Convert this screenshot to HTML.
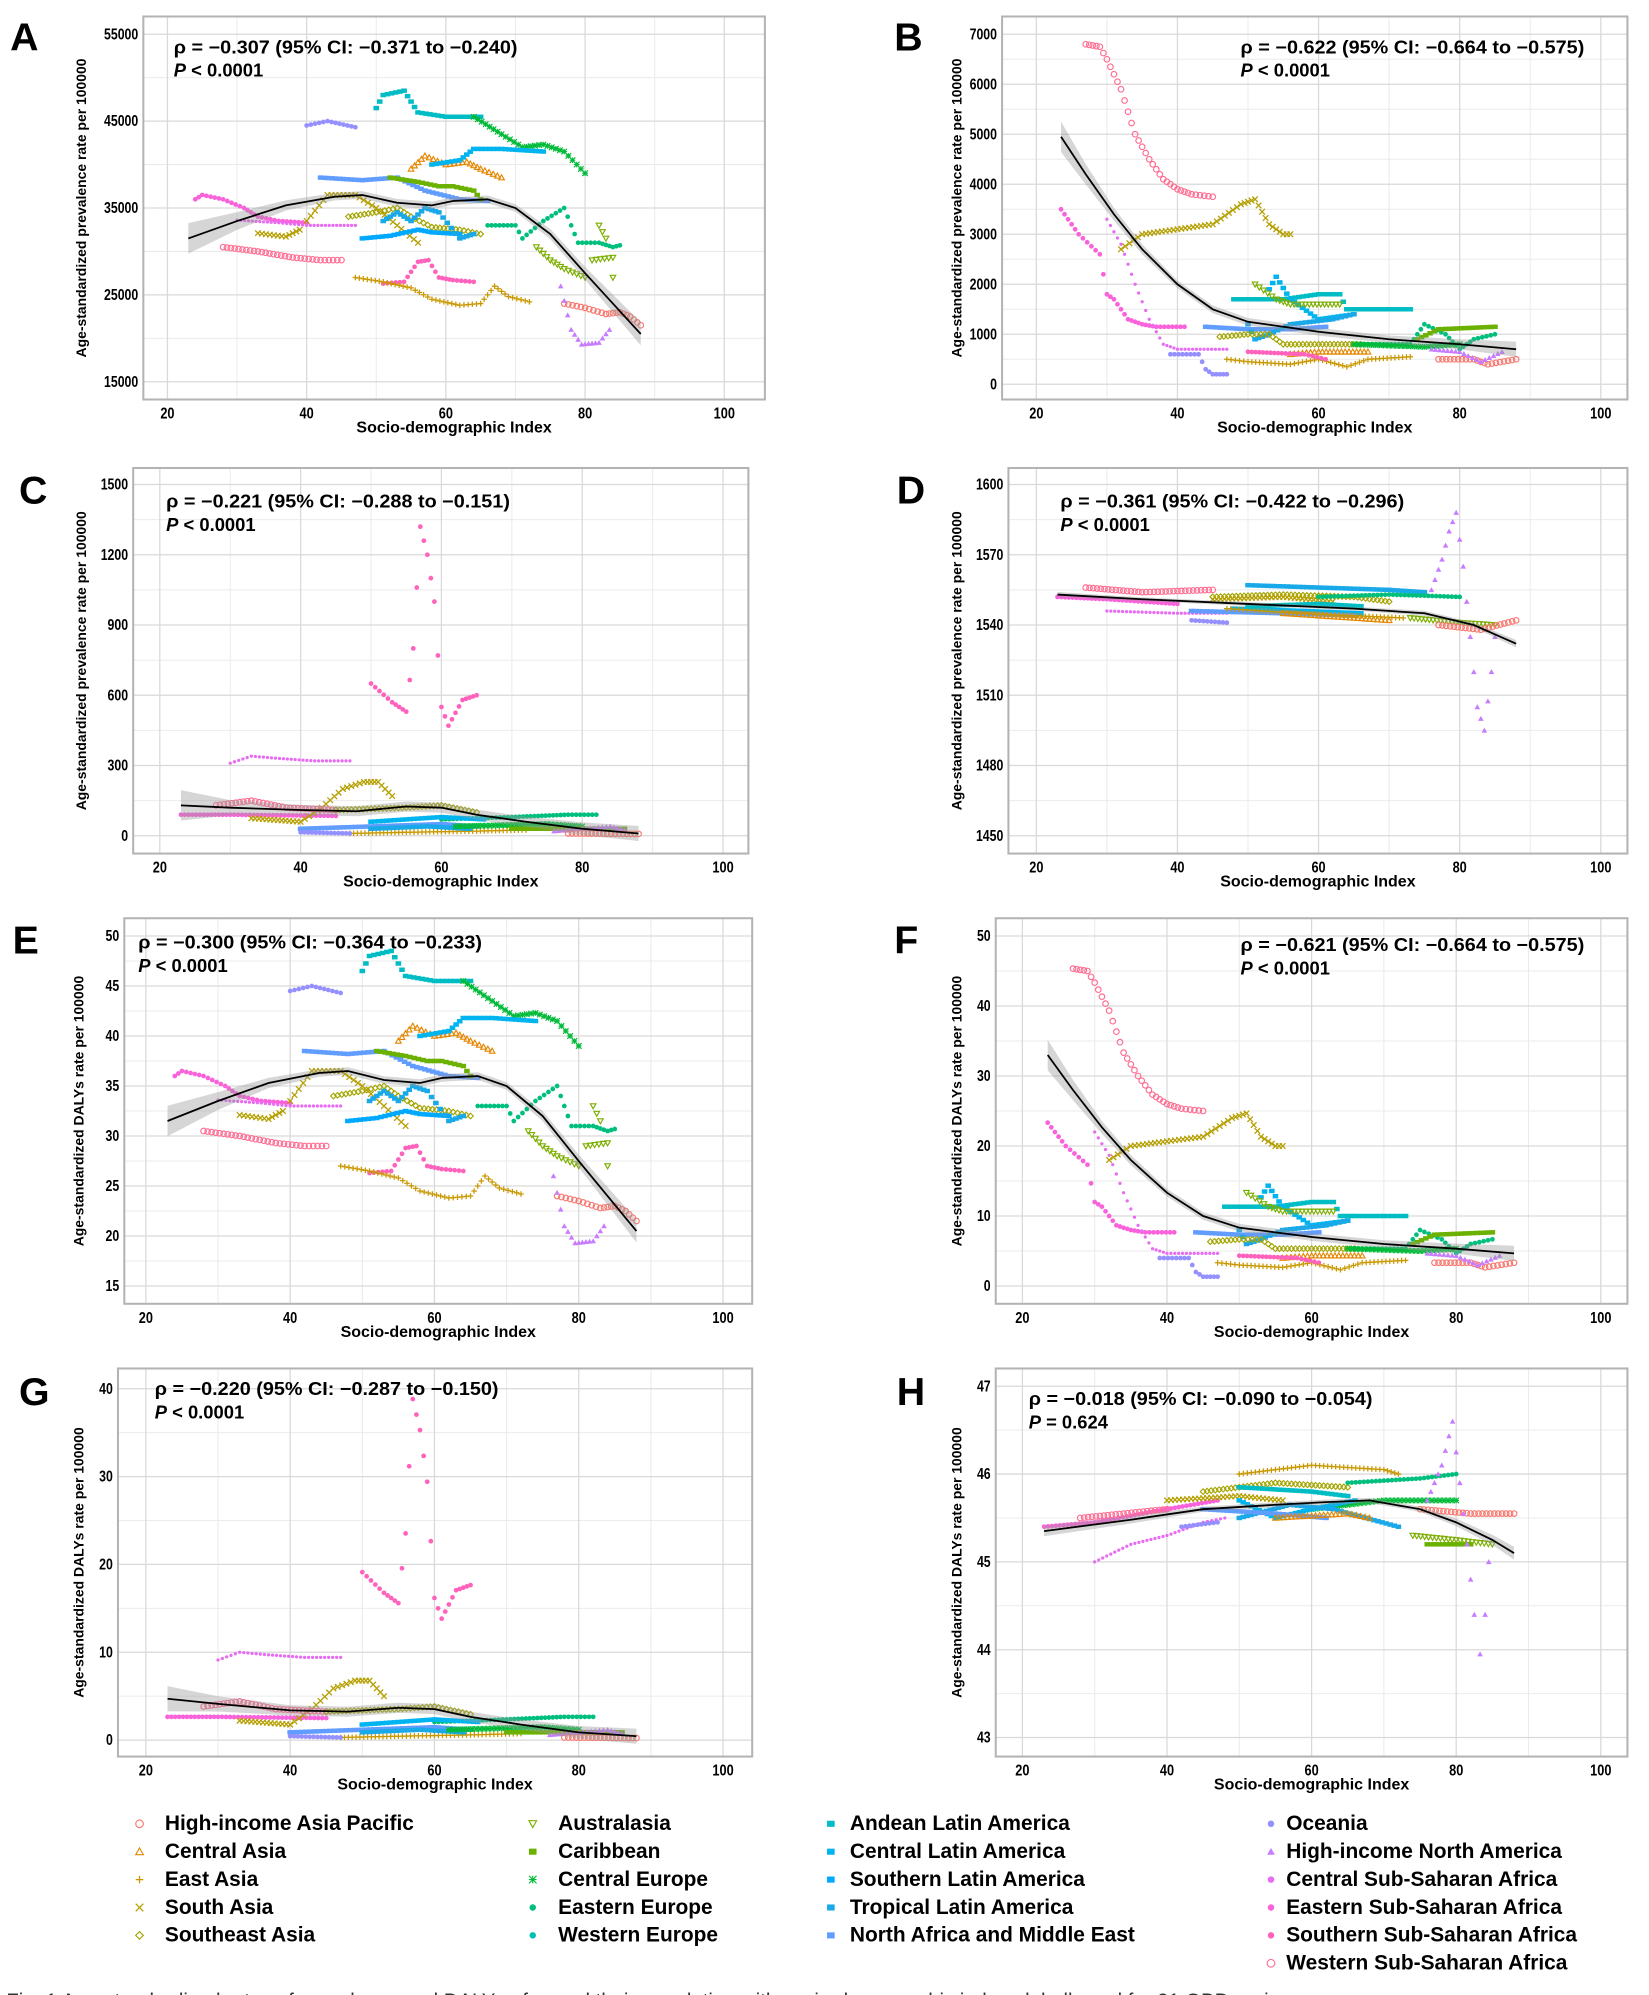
<!DOCTYPE html>
<html><head><meta charset="utf-8">
<style>
html,body{margin:0;padding:0;background:#fff;}
svg{display:block;}
text{font-family:"Liberation Sans Narrow","Liberation Sans",sans-serif;}
</style></head>
<body>
<svg id="s" width="1649" height="1995" viewBox="0 0 1300 1573" preserveAspectRatio="none" xmlns="http://www.w3.org/2000/svg"></svg>
<script>
const S=document.getElementById('s');
const NS='http://www.w3.org/2000/svg';
function el(t,a,p){const e=document.createElementNS(NS,t);for(const k in a)e.setAttribute(k,a[k]);(p||S).appendChild(e);return e;}
function tx(x,y,s,a){const e=el('text',Object.assign({x:x,y:y},a||{}));e.textContent=s;return e;}
const C=['#F8766D','#E58700','#C99800','#B59F00','#A3A500','#7CAE00','#6BB100','#00BA38','#00BF7D','#00C0AF','#00BCC4','#00B4EF','#00A9FF','#1AA9E8','#619CFF','#9590FF','#C77CFF','#E76BF3','#FA62DB','#FF62BC','#FF6C91'];
const SH=['o','t','+','x','d','v','s','*','f','f','s','s','s','s','s','f','F','f','f','f','o'];
function marker(g,sh,x,y,c,r){
 r=r||2.2;
 switch(sh){
 case 'o':el('circle',{cx:x,cy:y,r:r,fill:'none',stroke:c,'stroke-width':0.9},g);break;
 case 't':el('polygon',{points:`${x},${y-r} ${x-r},${y+r*0.8} ${x+r},${y+r*0.8}`,fill:'none',stroke:c,'stroke-width':0.9},g);break;
 case 'v':el('polygon',{points:`${x},${y+r} ${x-r},${y-r*0.8} ${x+r},${y-r*0.8}`,fill:'none',stroke:c,'stroke-width':0.9},g);break;
 case 'F':el('polygon',{points:`${x},${y-r} ${x-r},${y+r*0.8} ${x+r},${y+r*0.8}`,fill:c},g);break;
 case '+':el('path',{d:`M${x-r} ${y}H${x+r}M${x} ${y-r}V${y+r}`,stroke:c,'stroke-width':1},g);break;
 case 'x':el('path',{d:`M${x-r} ${y-r}L${x+r} ${y+r}M${x-r} ${y+r}L${x+r} ${y-r}`,stroke:c,'stroke-width':1},g);break;
 case '*':el('path',{d:`M${x-r} ${y}H${x+r}M${x} ${y-r}V${y+r}M${x-r} ${y-r}L${x+r} ${y+r}M${x-r} ${y+r}L${x+r} ${y-r}`,stroke:c,'stroke-width':0.9},g);break;
 case 'd':el('polygon',{points:`${x},${y-r} ${x+r},${y} ${x},${y+r} ${x-r},${y}`,fill:'none',stroke:c,'stroke-width':0.9},g);break;
 case 's':el('rect',{x:x-r,y:y-r*0.8,width:2*r,height:1.6*r,fill:c},g);break;
 default:el('circle',{cx:x,cy:y,r:r*0.85,fill:c},g);
 }
}
function panel(P){
 const [fx0,fy0,fx1,fy1]=P.frame;
 const X=v=>P.x20+(v-20)*(P.x100-P.x20)/80;
 const Y=v=>P.yb+(v-P.vb)*(P.yt-P.yb)/(P.vt-P.vb);
 const g=el('g',{});
 for(let v=10;v<=110;v+=20){const x=X(v);if(x>fx0&&x<fx1)el('line',{x1:x,x2:x,y1:fy0,y2:fy1,stroke:'#ebebeb','stroke-width':0.8},g);}
 const tk=P.ticks, st=tk[1]-tk[0];
 for(let v=tk[0]-st/2;v<=tk[tk.length-1]+st;v+=st){const y=Y(v);if(y>fy0&&y<fy1)el('line',{x1:fx0,x2:fx1,y1:y,y2:y,stroke:'#ebebeb','stroke-width':0.8},g);}
 for(let v=20;v<=100;v+=20){const x=X(v);el('line',{x1:x,x2:x,y1:fy0,y2:fy1,stroke:'#d9d9d9','stroke-width':1},g);
   const s=String(v);tx(x,fy1+15,s,{'font-size':12,'font-weight':'bold','text-anchor':'middle',textLength:s.length*5.6,lengthAdjust:'spacingAndGlyphs'});}
 const tm=P.tm||1;
 tk.forEach(v=>{const y=Y(v);el('line',{x1:fx0,x2:fx1,y1:y,y2:y,stroke:'#d9d9d9','stroke-width':1},g);
   const s=String(Math.round(v*tm));
   tx(fx0-4,y+4,s,{'font-size':12,'font-weight':'bold','text-anchor':'end',textLength:s.length*5.4,lengthAdjust:'spacingAndGlyphs'});});
 const sc=P.scale||1;
 P.series.forEach(s=>{const [ci,pts]=s;const c=C[ci],sh=SH[ci];
   for(let i=0;i<pts.length-1;i++){const [a,av]=pts[i],[b,bv]=pts[i+1];
     const n=Math.max(1,Math.round((b-a)/0.55));
     for(let k=0;k<n;k++){const t=k/n;marker(g,sh,X(a+(b-a)*t),Y((av+(bv-av)*t)*sc),c,s[2]);}}
   const l=pts[pts.length-1];marker(g,sh,X(l[0]),Y(l[1]*sc),c,s[2]);});
 const sm=P.smooth.map(p=>[X(p[0]),Y(p[1]*sc)]);
 const bw=P.band;
 let up=sm.map((p,i)=>[p[0],p[1]-(bw[i]||4)]),dn=sm.map((p,i)=>[p[0],p[1]+(bw[i]||4)]).reverse();
 el('polygon',{points:up.concat(dn).map(p=>p.join(',')).join(' '),fill:'#999','fill-opacity':0.4},g);
 el('polyline',{points:sm.map(p=>p.join(',')).join(' '),fill:'none',stroke:'#000','stroke-width':1.4},g);
 el('rect',{x:fx0,y:fy0,width:fx1-fx0,height:fy1-fy0,fill:'none',stroke:'#b3b3b3','stroke-width':1.6},g);
 tx((fx0+fx1)/2,fy1+26,'Socio-demographic Index',{'font-size':12.5,'font-weight':'bold','text-anchor':'middle',textLength:154,lengthAdjust:'spacingAndGlyphs'});
 const yc=(fy0+fy1)/2;
 tx(P.ylx,yc,P.ylab,{'font-size':11,'font-weight':'bold','text-anchor':'middle',transform:`rotate(-90 ${P.ylx} ${yc})`,'font-family':'Liberation Sans,sans-serif'});
 tx(P.lx,P.ly,P.L,{'font-size':31,'font-weight':'bold','font-family':'Liberation Sans,sans-serif'});
 tx(P.ax,P.ay,P.rho,{'font-size':14.5,'font-weight':'bold',textLength:271,lengthAdjust:'spacingAndGlyphs'});
 const t2=el('text',{x:P.ax,y:P.ay+18.5,'font-size':14.5,'font-weight':'bold'});
 const it=el('tspan',{'font-style':'italic'},t2);it.textContent='P';
 const r2=el('tspan',{},t2);r2.textContent=P.pv;
}
const SA=[
 [20,[[28,30.5],[33,30],[38,29.3],[42,29],[45,29]]],
 [18,[[24,36],[25,36.5],[28,36],[31,35],[33,34],[36,33.5],[40,33.3]]],
 [17,[[30,33.6],[36,33.3],[40,33],[47,33]],1.5],
 [19,[[51,26.3],[54,26.5],[56,28.8],[57.5,29],[59,27],[61,26.7],[64,26.5]]],
 [15,[[40,44.5],[43,45],[47,44.3]]],
 [10,[[50,46.5],[51,48],[54,48.5],[56,46],[60,45.5],[65,45.5]]],
 [7,[[64,45.5],[68,43.5],[71,42],[74,42.3],[77,41.5],[80,39]]],
 [1,[[55,39.5],[57,41],[60,40],[63,40.3],[65,39.5],[68,38.5]]],
 [11,[[58,40],[62,40.5],[64,41.8],[68,41.8],[74,41.5]]],
 [14,[[42,38.5],[48,38.2],[53,38.5],[57,37],[62,36],[66,35.8]]],
 [6,[[52,38.5],[56,38],[59,37.5],[61,37.5],[64,37],[65,36]]],
 [4,[[46,34],[50,34.5],[53,35],[55,34],[58,32.8],[62,32.5],[65,32]]],
 [3,[[40,33.5],[43,36.5],[47,36.5],[50,35],[53,33],[56,31]]],
 [3,[[33,32.1],[37,31.7],[39,32.5]]],
 [12,[[48,31.5],[52,31.8],[56,32.5],[58,32.2],[62,32]]],
 [13,[[51,33.5],[53,34.5],[55,33.5],[57,35],[59,34.5],[62,31.5],[64,32]]],
 [2,[[47,27],[51,26.5],[55,25.8],[58,24.5],[62,23.8],[65,24],[67,26],[69,24.8],[72,24.2]]],
 [8,[[66,33],[70,33],[71,31.5],[74,33.5],[77,35],[79,31],[82,31],[84,30.5],[85,30.7]]],
 [5,[[73,30.5],[75,29],[77,28],[80,27]]],
 [5,[[82,33],[83,31.5],[81,29],[84,29.3],[84,27]]],
 [0,[[77,24],[80,23.5],[83,22.8],[85,23],[86.5,22.5],[88,21.5]]],
 [16,[[76.5,26],[78,21],[79.5,19.3],[82,19.5],[83.5,21]]]
];
const SB=[
 [20,[[27,6800],[29,6750],[30,6500],[32,5900],[34,5000],[36,4500],[38,4100],[40,3900],[42,3800],[45,3750]]],
 [18,[[23.5,3500],[26,3000],[29,2600],[30,1800],[31,1700],[33,1300],[35,1200],[37,1150],[41,1150]]],
 [17,[[30,3300],[32,2800],[34,2000],[36,1300],[38,800],[40,700],[47,700]],1.5],
 [3,[[32,2700],[35,3000],[40,3100],[45,3200],[49,3600],[51,3700],[53,3200],[55,3000],[56,3000]]],
 [15,[[39,600],[43,600],[44,300],[45,200],[47,200]]],
 [14,[[44,1150],[50,1100],[56,1100],[61,1150]]],
 [10,[[48,1700],[55,1700],[60,1800],[63,1800],[64,1500],[66,1500],[70,1500],[73,1500]]],
 [11,[[53,1900],[54,2150],[56,1700],[60,1300],[65,1400]]],
 [5,[[51,2000],[54,1700],[56,1600],[63,1600]]],
 [13,[[50,1200],[51,900],[53,1000],[56,1200],[62,1300],[65,1400]]],
 [4,[[46,950],[50,1000],[53,1000],[55,800],[60,800],[66,800]]],
 [8,[[66,800],[73,800],[75,1200],[78,1000],[80,700],[82,900],[85,1000]]],
 [6,[[74,900],[77,1100],[85,1150]]],
 [7,[[65,800],[75,750],[80,800]]],
 [2,[[47,500],[50,450],[56,400],[60,500],[64,350],[67,500],[73,550]]],
 [1,[[56,600],[60,650],[67,650]]],
 [19,[[50,650],[58,600],[61,500]]],
 [0,[[77,500],[82,500],[84,400],[88,500]]],
 [16,[[76,700],[80,650],[83,450],[86,650]]]
];
const SC=[
 [19,[[50,650],[53,570],[55,530],[56,800],[57,1320],[58,1200],[59,1000],[59.5,770],[60,550],[61,470],[63,580],[65,600]]],
 [17,[[30,310],[33,340],[37,330],[42,320],[47,320]],1.5],
 [18,[[23,90],[30,90],[45,85]]],
 [3,[[33,75],[40,60],[43,120],[46,200],[49,230],[51,230],[53,170]]],
 [20,[[28,130],[33,150],[38,120],[45,110]]],
 [4,[[45,110],[55,120],[60,130],[65,100]]],
 [2,[[47,10],[55,15],[65,20],[72,25]]],
 [8,[[60,70],[70,80],[78,90],[82,90]]],
 [14,[[40,30],[50,40],[60,50],[65,40]]],
 [11,[[50,60],[60,80],[66,70]]],
 [13,[[50,30],[58,40],[64,30]]],
 [7,[[62,40],[75,50],[80,40]]],
 [6,[[70,30],[80,30],[86,30]]],
 [16,[[76,20],[80,30],[84,40],[86,25]]],
 [0,[[78,10],[88,8]]],
 [15,[[40,15],[47,10]]]
];
const SD=[
 [20,[[27,1556],[35,1554],[45,1555]]],
 [18,[[23,1552],[30,1551],[40,1549]]],
 [17,[[30,1546],[40,1545],[47,1545]],1.5],
 [15,[[42,1542],[47,1541]]],
 [4,[[45,1552],[55,1553],[65,1552],[70,1550]]],
 [3,[[45,1551],[55,1552],[62,1550]]],
 [13,[[50,1557],[60,1556],[70,1555],[75,1554]]],
 [8,[[60,1552],[70,1553],[80,1552]]],
 [11,[[48,1547],[58,1546],[66,1545]]],
 [14,[[42,1546],[55,1545],[65,1544]]],
 [1,[[55,1545],[65,1543],[70,1542]]],
 [2,[[47,1547],[57,1545],[65,1544],[72,1543]]],
 [10,[[50,1548],[60,1549],[66,1548]]],
 [5,[[73,1543],[80,1541],[85,1540]]],
 [0,[[77,1540],[83,1538],[88,1542]]],
 [16,[[76,1555],[77.5,1568],[78.5,1580],[79.5,1588],[80.5,1565],[81.5,1535],[82.5,1505],[83.5,1495],[84.5,1520],[85,1535]]]
];
const SH8=[
 [18,[[23,45.4],[30,45.45],[40,45.6],[47,45.7]]],
 [17,[[30,45.0],[35,45.2],[40,45.3],[45,45.45],[48,45.5]],1.5],
 [20,[[28,45.5],[40,45.6]]],
 [4,[[45,45.8],[55,45.9],[65,45.85]]],
 [2,[[50,46.0],[60,46.1],[70,46.05],[72,46.0]]],
 [3,[[40,45.7],[50,45.75],[56,45.7]]],
 [8,[[65,45.9],[75,45.95],[80,46.0]]],
 [7,[[60,45.6],[70,45.7],[80,45.7]]],
 [10,[[50,45.85],[60,45.8],[65,45.75]]],
 [11,[[50,45.7],[55,45.5],[60,45.6],[66,45.7]]],
 [13,[[50,45.5],[57,45.65],[63,45.6],[72,45.4]]],
 [14,[[45,45.6],[55,45.55],[62,45.5]]],
 [1,[[55,45.5],[65,45.55],[68,45.5]]],
 [5,[[74,45.3],[80,45.25],[85,45.2]]],
 [6,[[76,45.2],[82,45.2]]],
 [0,[[75,45.6],[82,45.55],[88,45.55]]],
 [16,[[76,45.7],[78,46.1],[79.5,46.6],[80.5,45.9],[81.5,45.2],[82.5,44.4],[83.3,43.95],[84,44.4],[84.5,45]]],
 [15,[[42,45.4],[47,45.45]]]
];
const A_Y='Age-standardized prevalence rate  per 100000', D_Y='Age-standardized DALYs rate  per 100000';
panel({L:'A',lx:8,ly:40,frame:[113,13,603,315],x20:132,x100:571,vt:55,yt:27,vb:15,yb:301,ticks:[15,25,35,45,55],tm:1000,
 series:SA,ylab:A_Y,ylx:68,ax:137,ay:42,rho:'ρ = −0.307 (95% CI: −0.371 to −0.240)',pv:' < 0.0001',
 smooth:[[23,31.5],[30,33.5],[37,35.3],[44,36.3],[48,36.5],[53,35.6],[58,35.3],[61,35.8],[66,36],[70,35],[75,32],[80,27.5],[84,24],[88,20.5]],band:[12,7,4,3,3,3,3,3,3,3,4,5,7,9]});
panel({L:'B',lx:705,ly:40,frame:[790,13,1283,315],x20:817,x100:1262,vt:7000,yt:27,vb:0,yb:303,ticks:[0,1000,2000,3000,4000,5000,6000,7000],
 series:SB,ylab:A_Y,ylx:758,ax:978,ay:42,rho:'ρ = −0.622 (95% CI: −0.664 to −0.575)',pv:' < 0.0001',
 smooth:[[23.5,4950],[27,4200],[31,3400],[35,2700],[40,2000],[45,1500],[50,1250],[55,1150],[60,1050],[70,900],[80,800],[88,700]],band:[12,8,5,4,3,3,3,3,3,3,4,6]});
panel({L:'C',lx:15,ly:397,frame:[105,369,590,673],x20:126,x100:570,vt:1500,yt:382,vb:0,yb:659,ticks:[0,300,600,900,1200,1500],
 series:SC,ylab:A_Y,ylx:68,ax:131,ay:400,rho:'ρ = −0.221 (95% CI: −0.288 to −0.151)',pv:' < 0.0001',
 smooth:[[23,130],[30,120],[40,110],[48,105],[55,125],[60,120],[65,90],[72,60],[80,30],[88,10]],band:[12,6,4,4,4,4,4,4,5,6]});
panel({L:'D',lx:707,ly:397,frame:[795,369,1283,673],x20:817,x100:1262,vt:1600,yt:382,vb:1450,yb:659,ticks:[1450,1480,1510,1540,1570,1600],
 series:SD,ylab:A_Y,ylx:758,ax:836,ay:400,rho:'ρ = −0.361 (95% CI: −0.422 to −0.296)',pv:' < 0.0001',
 smooth:[[23,1553],[35,1551],[50,1549],[65,1547],[75,1545],[82,1540],[88,1532]],band:[2,1.5,1.5,1.5,2,2,3]});
panel({L:'E',lx:10,ly:752,frame:[98,724,593,1028],x20:115,x100:570,vt:50,yt:738,vb:15,yb:1014,ticks:[15,20,25,30,35,40,45,50],
 series:SA,ylab:D_Y,ylx:66,ax:109,ay:748,rho:'ρ = −0.300 (95% CI: −0.364 to −0.233)',pv:' < 0.0001',
 smooth:[[23,31.5],[30,33.5],[37,35.3],[44,36.3],[48,36.5],[53,35.6],[58,35.3],[61,35.8],[66,36],[70,35],[75,32],[80,27.5],[84,24],[88,20.5]],band:[12,7,4,3,3,3,3,3,3,3,4,5,7,9]});
panel({L:'F',lx:705,ly:752,frame:[785,724,1283,1028],x20:806,x100:1262,vt:50,yt:738,vb:0,yb:1014,ticks:[0,10,20,30,40,50],scale:1/150,
 series:SB,ylab:D_Y,ylx:758,ax:978,ay:750,rho:'ρ = −0.621 (95% CI: −0.664 to −0.575)',pv:' < 0.0001',
 smooth:[[23.5,4950],[27,4200],[31,3400],[35,2700],[40,2000],[45,1500],[50,1250],[55,1150],[60,1050],[70,900],[80,800],[88,700]],band:[12,8,5,4,3,3,3,3,3,3,4,6]});
panel({L:'G',lx:15,ly:1108,frame:[93,1079,593,1385],x20:115,x100:570,vt:40,yt:1095,vb:0,yb:1372,ticks:[0,10,20,30,40],scale:1/34,
 series:SC,ylab:D_Y,ylx:66,ax:122,ay:1100,rho:'ρ = −0.220 (95% CI: −0.287 to −0.150)',pv:' < 0.0001',
 smooth:[[23,160],[30,140],[40,115],[48,110],[55,125],[60,120],[65,90],[72,60],[80,30],[88,15]],band:[10,6,4,4,4,4,4,4,5,6]});
panel({L:'H',lx:707,ly:1108,frame:[785,1079,1283,1385],x20:806,x100:1262,vt:47,yt:1093,vb:43,yb:1370,ticks:[43,44,45,46,47],
 series:SH8,ylab:D_Y,ylx:758,ax:811,ay:1108,rho:'ρ = −0.018 (95% CI: −0.090 to −0.054)',pv:' = 0.624',
 smooth:[[23,45.35],[35,45.48],[45,45.6],[55,45.65],[62,45.68],[68,45.7],[75,45.6],[80,45.45],[85,45.25],[88,45.1]],band:[4,3,2,2,2,2,2,3,4,5]});
const names=['High-income Asia Pacific','Central Asia','East Asia','South Asia','Southeast Asia','Australasia','Caribbean','Central Europe','Eastern Europe','Western Europe','Andean Latin America','Central Latin America','Southern Latin America','Tropical Latin America','North Africa and Middle East','Oceania','High-income North America','Central Sub-Saharan Africa','Eastern Sub-Saharan Africa','Southern Sub-Saharan Africa','Western Sub-Saharan Africa'];
const cols=[[110,130,0,5],[420,440,5,10],[655,670,10,15],[1002,1014,15,21]];
const lg=el('g',{});
cols.forEach(([mx,tx0,a,b])=>{for(let i=a;i<b;i++){const y=1443+(i-a)*22;
  marker(lg,SH[i],mx,y-5,C[i],3);
  tx(tx0,y,names[i],{'font-size':16.5,'font-weight':'bold'});}});
tx(5,1583,'Fig. 1  Age-standardized rates of prevalence and DALYs of ... and their correlation with socio-demographic index globally and for 21 GBD regions',{'font-size':16,'fill':'#333','font-family':'Liberation Sans,sans-serif'});
</script>
</body></html>
